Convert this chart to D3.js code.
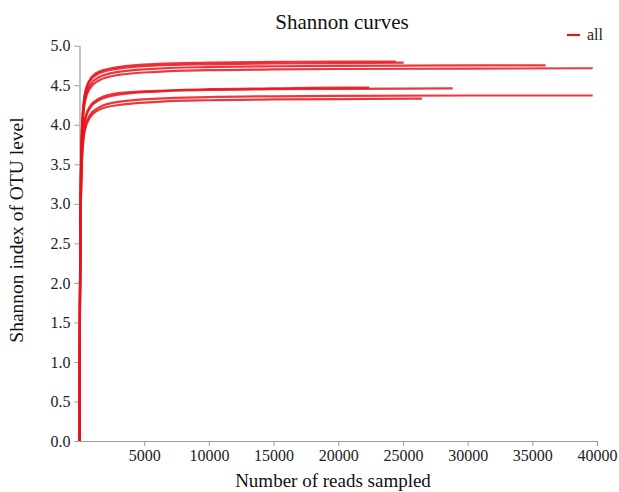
<!DOCTYPE html>
<html>
<head>
<meta charset="utf-8">
<script src="https://cdn.jsdelivr.net/npm/d3@7"></script>
<style>
  html, body { margin: 0; padding: 0; background: #fff; }
  svg { display: block; font-family: "Liberation Serif", "Times New Roman", serif; }
</style>
</head>
<body>
<div id="chart"></div>
<script>
// ---- data ----
const depths = [0, 30, 100, 200, 400, 800, 1500, 3000, 6000, 10000, 15000, 20000, 30000];
const sampleEnds = [24440, 25060, 36030, 39670, 22400, 28850, 39670, 26470];
const sampleEndValues = [4.80, 4.785, 4.75, 4.715, 4.47, 4.46, 4.37, 4.33];
const s1 = [0, 1.8, 3.3, 4.00, 4.38, 4.57, 4.67, 4.73, 4.77, 4.785, 4.795, 4.80];
const s2 = [0, 1.8, 3.3, 3.98, 4.36, 4.55, 4.65, 4.71, 4.75, 4.765, 4.775, 4.78];
const s3 = [0, 1.7, 3.2, 3.90, 4.30, 4.50, 4.60, 4.67, 4.71, 4.73, 4.74, 4.745, 4.75];
const s4 = [0, 1.7, 3.2, 3.88, 4.27, 4.46, 4.56, 4.63, 4.67, 4.69, 4.70, 4.705, 4.71];
const s5 = [0, 1.6, 3.0, 3.70, 4.05, 4.23, 4.33, 4.40, 4.43, 4.45, 4.46, 4.47];
const s6 = [0, 1.6, 3.0, 3.68, 4.03, 4.21, 4.31, 4.38, 4.42, 4.44, 4.45, 4.455];
const s7 = [0, 1.5, 2.9, 3.60, 3.95, 4.12, 4.22, 4.29, 4.33, 4.35, 4.36, 4.365, 4.37];
const s8 = [0, 1.5, 2.9, 3.58, 3.92, 4.09, 4.19, 4.25, 4.29, 4.31, 4.32, 4.325];
const sampleValues = [s1, s2, s3, s4, s5, s6, s7, s8];
const xTicks = [5000, 10000, 15000, 20000, 25000, 30000, 35000, 40000];
const yTicks = [0, 0.5, 1.0, 1.5, 2.0, 2.5, 3.0, 3.5, 4.0, 4.5, 5.0];
const legendLabel = "all";

// ---- build series ----
const series = sampleValues.map((vals, i) => {
  const pts = [];
  vals.forEach((v, j) => { if (depths[j] < sampleEnds[i]) pts.push([depths[j], v]); });
  pts.push([sampleEnds[i], sampleEndValues[i]]);
  return pts;
});

const W = 619, H = 492;
const svg = d3.select("#chart").append("svg").attr("width", W).attr("height", H);

const x = d3.scaleLinear().domain([0, 40000]).range([79.5, 597]);
const y = d3.scaleLinear().domain([0, 5]).range([441, 45.7]);

// axes
const axisColor = "#9a9a9a";
const gx = svg.append("g").attr("transform", `translate(0,${y(0)})`)
  .call(d3.axisBottom(x).tickValues(xTicks).tickFormat(d3.format("d")).tickSize(5).tickSizeOuter(0).tickPadding(4));
const gy = svg.append("g").attr("transform", `translate(${x(0)},0)`)
  .call(d3.axisLeft(y).tickValues(yTicks).tickFormat(d3.format(".1f")).tickSize(5).tickSizeOuter(0).tickPadding(4));
[gx, gy].forEach(g => {
  g.select(".domain").attr("stroke", axisColor).attr("stroke-width", 1.2);
  g.selectAll(".tick line").attr("stroke", axisColor);
  g.selectAll(".tick text").attr("fill", "#222").style("font-size", "16px")
    .style("font-family", '"Liberation Serif", serif');
});

// lines
const line = d3.line().x(d => x(d[0])).y(d => y(d[1])).curve(d3.curveMonotoneX);
svg.append("g").selectAll("path").data(series).join("path")
  .attr("d", line)
  .attr("fill", "none")
  .attr("stroke", "#e8141c")
  .attr("stroke-opacity", 0.85)
  .attr("stroke-width", 2.2);

// title
svg.append("text").attr("x", 342).attr("y", 29).attr("text-anchor", "middle")
  .style("font-size", "21px").attr("fill", "#111").text("Shannon curves");

// legend
svg.append("line").attr("x1", 567).attr("x2", 580).attr("y1", 35).attr("y2", 35)
  .attr("stroke", "#e8141c").attr("stroke-width", 2.2);
svg.append("text").attr("x", 587).attr("y", 40).style("font-size", "16px")
  .attr("fill", "#222").text(legendLabel);

// axis titles
svg.append("text").attr("x", 333).attr("y", 487).attr("text-anchor", "middle")
  .style("font-size", "19px").attr("fill", "#111").text("Number of reads sampled");
svg.append("text").attr("transform", "translate(23,230) rotate(-90)").attr("text-anchor", "middle")
  .style("font-size", "19.5px").attr("fill", "#111").text("Shannon index of OTU level");
</script>
</body>
</html>
